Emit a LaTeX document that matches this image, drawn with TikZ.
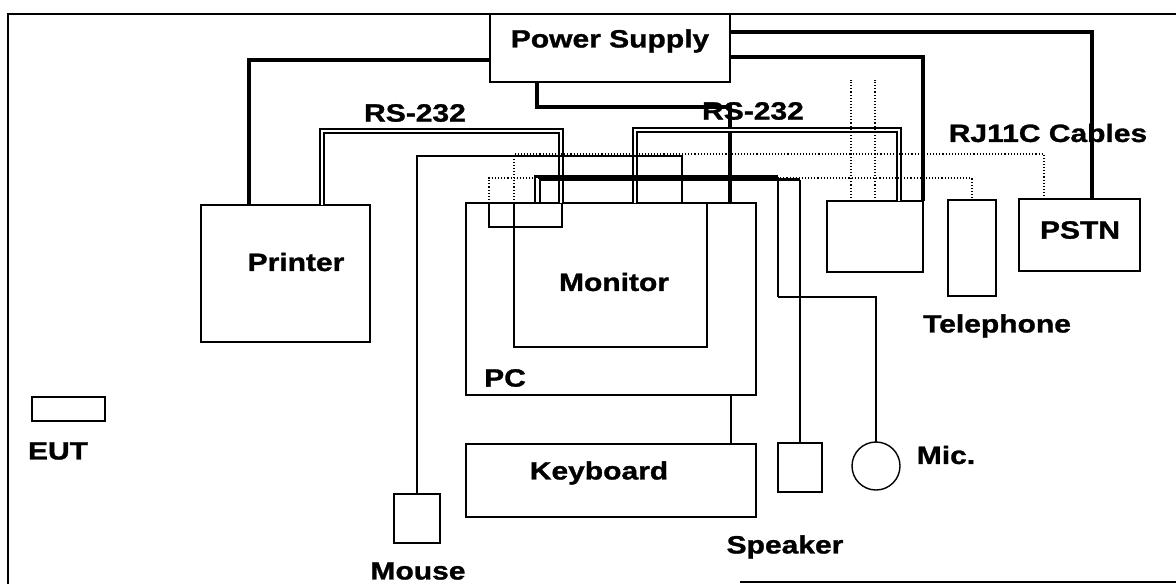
\documentclass[tikz,border=0pt]{standalone}
\usepackage{fontspec}
\newfontfamily\lblfont{Liberation Sans}[FakeStretch=1.2,BoldFeatures={FakeBold=1.2}]
\usetikzlibrary{calc}

\begin{document}
\begin{tikzpicture}[x=1pt,y=-1pt,
  box/.style={draw,line width=1.4pt,inner sep=0pt,outer sep=0pt},
  lbl/.style={font=\lblfont\bfseries\fontsize{25}{27}\selectfont,inner sep=0pt},
  power/.style={line width=3.4pt},
  serial/.style={double,double distance=2.4pt,line width=1.4pt},
  cable/.style={line width=1.1pt},
  rj/.style={line width=1.1pt,dotted}]
  \useasboundingbox (0,0) rectangle (1176,584);
  % frame
  \draw[line width=1.4pt] (8,584) -- (8,14) -- (1176,14);
  \draw[line width=1.4pt] (740,582) -- (1176,582);
  % boxes
  \node[box,minimum width=240pt,minimum height=68pt] (ps) at (610,48){};
  \node[box,minimum width=169pt,minimum height=137pt] (printer) at (285.5,273.5){};
  \node[box,minimum width=290pt,minimum height=192pt] (pc) at (611,299){};
  \node[box,minimum width=193pt,minimum height=144pt] (mon) at (610.5,275){};
  \node[box,minimum width=73pt,minimum height=24pt] (conn) at (525.5,215){};
  \node[box,minimum width=96pt,minimum height=71pt] (modem) at (875,236.5){};
  \node[box,minimum width=48pt,minimum height=96pt] (phone) at (972,248){};
  \node[box,minimum width=121pt,minimum height=72pt] (pstn) at (1079.5,235){};
  \node[box,minimum width=290pt,minimum height=73pt] (kbd) at (611,480.5){};
  \node[box,minimum width=46pt,minimum height=49pt] (mouse) at (417,518.5){};
  \node[box,minimum width=44pt,minimum height=49pt] (spk) at (800,467.5){};
  \node[box,circle,minimum size=48pt] (mic) at (876,466){};
  \node[box,minimum width=73pt,minimum height=24pt] (eut) at (68.5,409){};
  % labels
  \node[lbl] (pslbl) at (610,41){Power Supply};
  \node[lbl] (rsalbl) at (415,113){RS-232};
  \node[lbl] (rsblbl) at (753,111){RS-232};
  \node[lbl] (rjlbl) at (1048,133){RJ11C Cables};
  \node[lbl] (prlbl) at (296,262){Printer};
  \node[lbl] (monlbl) at (614,282){Monitor};
  \node[lbl] (pclbl) at (505,378){PC};
  \node[lbl] (pstnlbl) at (1080,230){PSTN};
  \node[lbl] (phonelbl) at (997,326){Telephone};
  \node[lbl] (kbdlbl) at (599,473){Keyboard};
  \node[lbl] (spklbl) at (785,547){Speaker};
  \node[lbl] (mouselbl) at (418,571){Mouse};
  \node[lbl] (miclbl) at (946,455){Mic.};
  \node[lbl] (eutlbl) at (58,451){EUT};
  % bend points
  \coordinate (pwrbend) at (730,107);
  \coordinate (rsa) at (440,131);
  \coordinate (rsb) at (760,130);
  \coordinate (mbend) at (682,156);
  \coordinate (micbend) at (778,297);
  \coordinate (busa) at (0,176.5);
  \coordinate (busb) at (0,179.5);
  \coordinate (busc) at (0,178);
  \coordinate (busd) at (0,154);
  \coordinate (rjtop) at (0,80);
  \coordinate (pstnin) at ([xshift=25pt]pstn.north west);
  \coordinate (rja) at ([xshift=24pt]modem.north west);
  \coordinate (rjb) at ([xshift=48pt]modem.north west);
  % power cables
  \draw[power] ([yshift=-12pt]ps.west) -| ([xshift=48pt]printer.north west);
  \draw[power] ([xshift=47pt]ps.south west) |- (pwrbend) -- (pwrbend |- pc.north);
  \draw[power] ([yshift=16pt]ps.east) -| ([xshift=73pt]pstn.north west);
  \draw[power] ([yshift=-9pt]ps.east) -| (modem.north east);
  % RS-232 cables
  \draw[serial] ([xshift=121pt]printer.north west) |- (rsa) -| ([xshift=72pt]conn.north west);
  \draw[serial] ([xshift=169pt]pc.north west) |- (rsb) -| ([xshift=72pt]modem.north west);
  % signal cables
  \draw[cable] (mouse.north) |- (mbend) -- (mbend |- pc.north);
  \draw[cable] ([xshift=265pt]pc.south west) -- ([xshift=265pt]kbd.north west);
  \draw[cable,line width=2.4pt] ([xshift=69pt]pc.north west) |- (micbend |- busa);
  \draw[cable,line width=1.6pt] (micbend |- busa) -- (micbend);
  \draw[cable] (micbend) -| (mic.north);
  \draw[cable,line width=2.4pt] ([xshift=74pt]pc.north west) |- (spk.north |- busb);
  \draw[cable] (spk.north |- busb) -- (spk.north);
  % RJ11C cables
  \draw[rj] (conn.north west) |- (phone.north |- busc) -- (phone.north);
  \draw[rj] (mon.north west) |- (pstnin |- busd) -- (pstnin);
  \draw[rj] (rja) -- (rja |- rjtop);
  \draw[rj] (rjb) -- (rjb |- rjtop);
\end{tikzpicture}
\end{document}
